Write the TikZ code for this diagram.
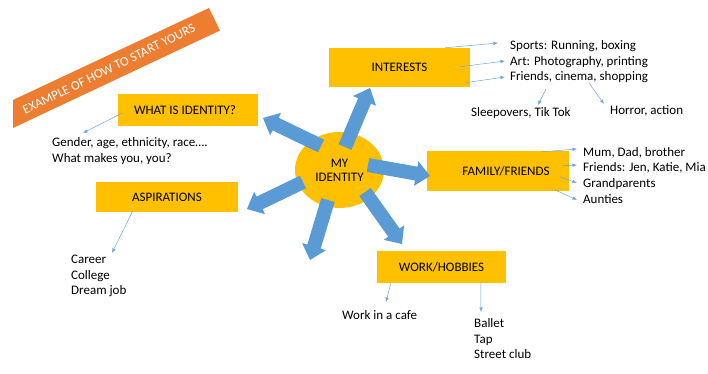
\documentclass[tikz,border=0pt]{standalone}
\usepackage{fontspec}
\setmainfont{Carlito}
\usetikzlibrary{calc,arrows.meta,shapes.geometric}
\definecolor{boxyellow}{HTML}{FFC000}
\definecolor{bannerorange}{HTML}{ED7D31}
\definecolor{arrowblue}{HTML}{5B9BD5}
\definecolor{thinblue}{HTML}{6FA7DC}
\newcommand\itemfont{\fontsize{13}{15.6}\selectfont}
\newcommand\blockarrow[3]{% #1 name, #2 tail, #3 tip
  \coordinate (hb#1) at ($(#3)!14pt!(#2)$);
  \fill[arrowblue] ($(#2)!7pt!90:(#3)$) -- ($(hb#1)!7pt!-90:(#2)$) -- ($(hb#1)!12.5pt!-90:(#2)$)
    -- (#3) -- ($(hb#1)!12.5pt!90:(#2)$) -- ($(hb#1)!7pt!90:(#2)$) -- ($(#2)!7pt!-90:(#3)$) -- cycle;}
\tikzset{
  box/.style={fill=boxyellow, inner sep=0pt, font=\itemfont, text=black},
  item/.style={anchor=west, inner sep=0pt, font=\itemfont, text height=10.5pt, text depth=1.5pt},
  itemlist/.style={anchor=north west, inner sep=0pt, font=\itemfont, align=left},
  link/.style={draw=thinblue, line width=0.5pt, -{Latex[length=4.5pt,width=3.5pt]}},
}
\begin{document}
\begin{tikzpicture}[x=1pt,y=-1pt]
\useasboundingbox (0,0) rectangle (708,374);
% banner
\fill[bannerorange] (13,100) -- (209,8) -- (220,30.5) -- (13,128) -- cycle;
\node[font=\itemfont, text=white, rotate=26, inner sep=0pt] (banner) at (109,69) {EXAMPLE OF HOW TO START YOURS};
% boxes
\node[box, minimum width=141pt, minimum height=39pt] (interests) at (399.5,67.5) {INTERESTS};
\node[box, minimum width=142pt, minimum height=40pt] (family) at (498,171) {\hspace*{16pt}FAMILY/FRIENDS};
\node[box, minimum width=140pt, minimum height=32pt] (what) at (188,110) {WHAT IS IDENTITY?\hspace*{6pt}};
\node[box, minimum width=142pt, minimum height=30pt] (asp) at (167,197) {ASPIRATIONS};
\node[box, minimum width=129pt, minimum height=32pt] (work) at (441.5,267) {WORK/HOBBIES};
% centre
\node[ellipse, fill=boxyellow, minimum width=89pt, minimum height=76pt, inner sep=0pt] (me) at (339.5,170) {};
% block arrows
\coordinate (t1) at (345,147); \coordinate (p1) at (370,88);
\coordinate (t2) at (321,146); \coordinate (p2) at (263,118);
\coordinate (t3) at (368,165); \coordinate (p3) at (430,176);
\coordinate (t4) at (365,192); \coordinate (p4) at (402,244);
\coordinate (t5) at (328,200); \coordinate (p5) at (310,260);
\coordinate (t6) at (303,182); \coordinate (p6) at (247,209);
\blockarrow{a}{t1}{p1}
\blockarrow{b}{t2}{p2}
\blockarrow{c}{t3}{p3}
\blockarrow{d}{t4}{p4}
\blockarrow{e}{t5}{p5}
\blockarrow{f}{t6}{p6}
\node[font=\itemfont, align=center, inner sep=0pt] (melabel) at (339.5,170) {MY\\[-1.6pt]IDENTITY};
% interests items
\node[item] (sports) at (510,45) {Sports: Running, boxing};
\node[item] (art) at (510,61) {Art: Photography, printing};
\node[item] (friendsi) at (510,76) {Friends, cinema, shopping};
\node[item] (sleep) at (471,112) {Sleepovers, Tik Tok};
\node[item] (horror) at (610,110) {Horror, action};
\draw[link] ($(interests.north west)+(116,0)$) -- ($(sports.west)+(-12,-2)$);
\draw[link] ($(interests.north west)+(131,19)$) -- ($(art.west)+(-5,0)$);
\draw[link] ($(interests.north west)+(136,35)$) -- ($(friendsi.west)+(-5,1)$);
\draw[link] ($(friendsi.west)+(36,13)$) -- ($(sleep.west)+(67,-7)$);
\draw[link] ($(friendsi.west)+(79,7)$) -- ($(horror.west)+(-6,-6)$);
% family items
\node[item] (mum) at (583,152) {Mum, Dad, brother};
\node[item] (friendsf) at (583,167) {Friends: Jen, Katie, Mia};
\node[item] (grand) at (583,183) {Grandparents};
\node[item] (aunt) at (583,199) {Aunties};
\draw[link] ($(family.north west)+(115,1)$) -- ($(mum.west)+(-6,-3)$);
\draw[link] ($(family.north west)+(136,15)$) -- ($(friendsf.west)+(-6,-2)$);
\draw[link] ($(family.north west)+(133,26)$) -- ($(grand.west)+(-6,0)$);
\draw[link] ($(family.north west)+(128,39)$) -- ($(aunt.west)+(-6,1)$);
% what is identity
\node[itemlist] (gender) at (52,137.5) {Gender, age, ethnicity, race….\\What makes you, you?};
\draw[link] ($(what.north west)+(5,19)$) -- ($(gender.north west)+(31,-4.5)$);
% aspirations
\node[itemlist] (career) at (71,255) {Career\\College\\Dream job};
\draw[link] ($(asp.north west)+(37,29)$) -- ($(career.north west)+(41,-2)$);
% work
\node[item] (cafe) at (342,315) {Work in a cafe};
\node[itemlist] (ballet) at (474,318.5) {Ballet\\Tap\\Street club};
\draw[link] ($(work.south west)+(14,0)$) -- ($(cafe.west)+(44,-13)$);
\draw[link] ($(work.south west)+(104,-1)$) -- ($(ballet.north west)+(7,-6.5)$);
\end{tikzpicture}
\end{document}
